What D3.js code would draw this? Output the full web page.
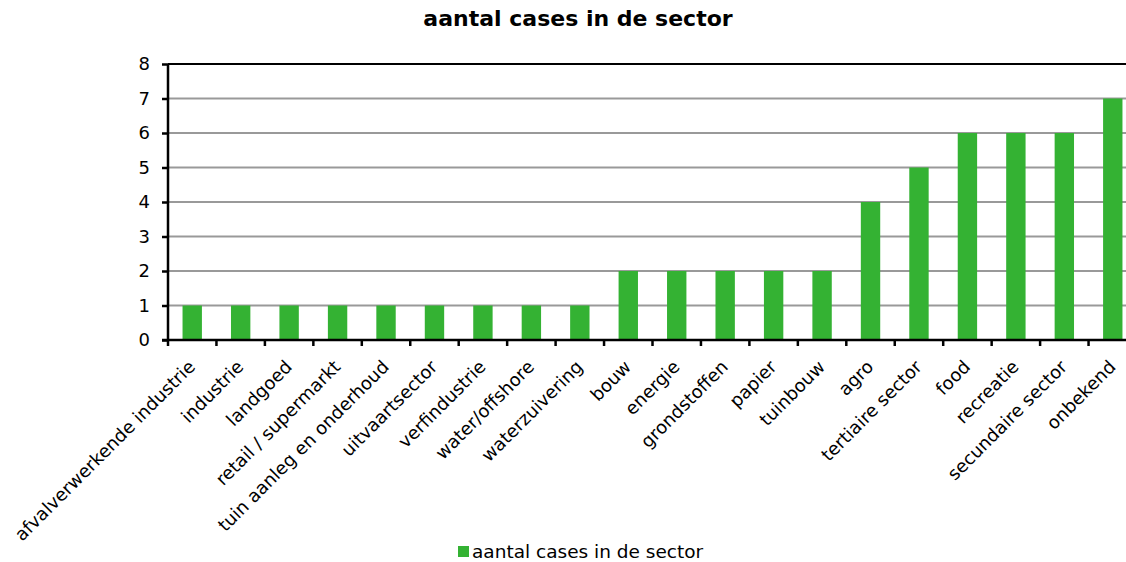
<!DOCTYPE html>
<html>
<head>
<meta charset="utf-8">
<script src="https://cdn.jsdelivr.net/npm/d3@7"></script>
<style>
  body { margin: 0; background: #fff; overflow: hidden; }
  text { font-family: "DejaVu Sans", Verdana, sans-serif; fill: #000; }
</style>
</head>
<body>
<script>
(function(){

    //chart data
    var sectors = ["afvalverwerkende industrie", "industrie", "landgoed", "retail / supermarkt",
        "tuin aanleg en onderhoud", "uitvaartsector", "verfindustrie", "water/offshore",
        "waterzuivering", "bouw", "energie", "grondstoffen", "papier", "tuinbouw", "agro",
        "tertiaire sector", "food", "recreatie", "secundaire sector", "onbekend"];
    var cases = [1, 1, 1, 1, 1, 1, 1, 1, 1, 2, 2, 2, 2, 2, 4, 5, 6, 6, 6, 7];
    var yTicks = [0, 1, 2, 3, 4, 5, 6, 7, 8];
    var seriesName = "aantal cases in de sector";

    //frame dimensions
    var width = 1126,
        height = 562,
        left = 168,
        top = 64,
        bottom = 340,
        bandWidth = 48.45,
        right = left + bandWidth * sectors.length;

    var svg = d3.select("body")
        .append("svg")
        .attr("width", width)
        .attr("height", height);

    var xScale = d3.scaleBand()
        .domain(sectors)
        .range([left, right])
        .paddingInner(0.6)
        .paddingOuter(0.3);

    var yScale = d3.scaleLinear()
        .domain([0, 8])
        .range([bottom, top]);

    //gridlines
    svg.append("g")
        .selectAll("line")
        .data(yTicks.slice(1, -1))
        .enter()
        .append("line")
        .attr("x1", left)
        .attr("x2", right)
        .attr("y1", function(d){ return yScale(d); })
        .attr("y2", function(d){ return yScale(d); })
        .attr("stroke", "#999")
        .attr("stroke-width", 2);

    //bars
    svg.append("g")
        .selectAll("rect")
        .data(cases)
        .enter()
        .append("rect")
        .attr("x", function(d, i){ return xScale(sectors[i]); })
        .attr("width", xScale.bandwidth())
        .attr("y", function(d){ return yScale(d); })
        .attr("height", function(d){ return bottom - yScale(d); })
        .attr("fill", "#34b233");

    //top border
    svg.append("line")
        .attr("x1", left).attr("x2", right)
        .attr("y1", top).attr("y2", top)
        .attr("stroke", "#000").attr("stroke-width", 2);

    //y axis
    var yAxis = d3.axisLeft(yScale)
        .tickValues(yTicks)
        .tickSize(6)
        .tickPadding(12);
    var yg = svg.append("g")
        .attr("transform", "translate(" + left + ",0)")
        .call(yAxis);
    yg.selectAll("path, line").attr("stroke", "#000").attr("stroke-width", 2.5);
    yg.select(".domain").attr("d", "M0," + top + "V" + bottom);
    yg.selectAll("text")
        .style("font-family", "DejaVu Sans, Verdana, sans-serif")
        .style("font-size", "18px");

    //x axis with ticks on category boundaries
    var xg = svg.append("g");
    xg.append("line")
        .attr("x1", left - 6).attr("x2", right)
        .attr("y1", bottom).attr("y2", bottom)
        .attr("stroke", "#000").attr("stroke-width", 2.5);
    xg.selectAll(".xtick")
        .data(d3.range(sectors.length + 1))
        .enter()
        .append("line")
        .attr("x1", function(i){ return left + i * bandWidth; })
        .attr("x2", function(i){ return left + i * bandWidth; })
        .attr("y1", bottom)
        .attr("y2", bottom + 6)
        .attr("stroke", "#000")
        .attr("stroke-width", 2.5);
    xg.selectAll(".xlabel")
        .data(sectors)
        .enter()
        .append("text")
        .attr("text-anchor", "end")
        .attr("font-size", "18px")
        .attr("transform", function(d){
            var cx = xScale(d) + xScale.bandwidth() / 2 + 4;
            return "translate(" + cx + "," + (bottom + 28) + ") rotate(-45)";
        })
        .text(function(d){ return d; });

    //title
    svg.append("text")
        .attr("x", 578)
        .attr("y", 26)
        .attr("text-anchor", "middle")
        .attr("font-size", "22px")
        .attr("font-weight", "bold")
        .text(seriesName);

    //legend
    var legend = svg.append("g").attr("transform", "translate(458,546)");
    legend.append("rect")
        .attr("width", 11).attr("height", 11)
        .attr("fill", "#34b233");
    legend.append("text")
        .attr("x", 14)
        .attr("y", 12)
        .attr("font-size", "18.5px")
        .text(seriesName);
})();
</script>
</body>
</html>
